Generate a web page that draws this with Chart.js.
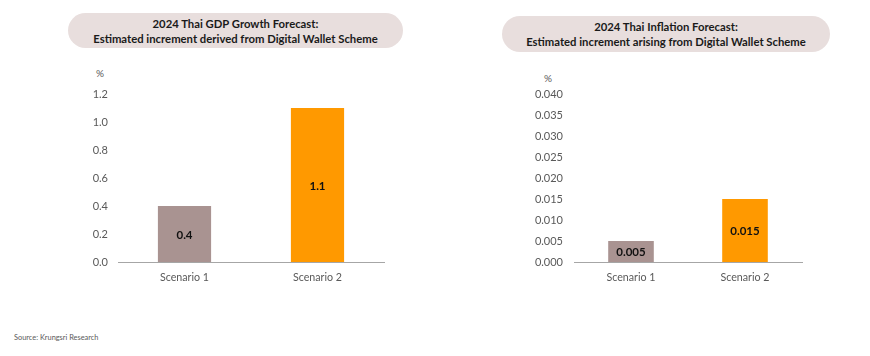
<!DOCTYPE html>
<html><head><meta charset="utf-8">
<script src="https://cdn.jsdelivr.net/npm/chart.js@4.4.0/dist/chart.umd.min.js"></script>
<style>
html,body{margin:0;padding:0;background:#fff;width:870px;height:356px;overflow:hidden;font-family:Lato,"Open Sans",sans-serif;}
.pill{position:absolute;background:#E8DEDD;border-radius:18px;text-align:center;font-weight:bold;font-size:11.3px;line-height:15px;color:#1a1a1a;display:flex;flex-direction:column;justify-content:center;}
.unit{position:absolute;font-size:10px;color:#595959;}
.src{position:absolute;left:14px;top:333px;font-size:7.4px;color:#595959;}
canvas{position:absolute;top:0;}
</style></head><body>
<div class="pill" style="left:68px;top:13px;width:335px;height:35px;">2024 Thai GDP Growth Forecast:<br>Estimated increment derived from Digital Wallet Scheme</div>
<div class="pill" style="left:502px;top:16px;width:328px;height:36px;">2024 Thai Inflation Forecast:<br>Estimated increment arising from Digital Wallet Scheme</div>
<div class="unit" style="left:96px;top:67px;">%</div>
<div class="unit" style="left:544px;top:72px;">%</div>
<div class="src">Source: Krungsri Research</div>
<canvas id="c1" style="left:0px;"></canvas>
<canvas id="c2" style="left:435px;"></canvas>
<script>
const categories = ["Scenario 1", "Scenario 2"];
const gdpValues = [0.4, 1.1];
const inflationValues = [0.005, 0.015];
const gdpTicks = {min: 0, max: 1.2, step: 0.2, decimals: 1};
const inflTicks = {min: 0, max: 0.04, step: 0.005, decimals: 3};
const barColors = ["#A99391", "#FF9900"];

const valueLabels = {
  id: 'valueLabels',
  afterDatasetsDraw(chart) {
    const ctx = chart.ctx;
    const meta = chart.getDatasetMeta(0);
    const ds = chart.data.datasets[0];
    ctx.save();
    ctx.font = 'bold 11.5px Lato, "Open Sans", sans-serif';
    ctx.fillStyle = '#111';
    ctx.textAlign = 'center';
    ctx.textBaseline = 'middle';
    meta.data.forEach((bar, i) => {
      const y = (bar.y + bar.base) / 2;
      ctx.fillText(String(ds.data[i]), bar.x, y + 1);
    });
    ctx.restore();
  }
};

function make(id, values, t, yWidth, yPad, padRight) {
  const cv = document.getElementById(id);
  cv.width = 435; cv.height = 300;
  cv.style.width = '435px'; cv.style.height = '300px';
  return new Chart(cv, {
    type: 'bar',
    data: {labels: categories, datasets: [{data: values, backgroundColor: barColors, borderWidth: 0,
      barPercentage: 0.4, categoryPercentage: 1.0}]},
    options: {
      responsive: false, animation: false,
      layout: {padding: {left: 0, right: padRight, top: 94, bottom: 8}},
      plugins: {legend: {display: false}, tooltip: {enabled: false}},
      scales: {
        x: {
          grid: {display: false, drawTicks: false},
          border: {display: true, color: '#A6A6A6', width: 1},
          ticks: {color: '#595959', font: {size: 10.7, family: 'Lato, "Open Sans", sans-serif'}, padding: 9},
          afterFit(s) { s.height = 30; }
        },
        y: {
          min: t.min, max: t.max,
          grid: {display: false, drawTicks: false},
          border: {display: false},
          ticks: {stepSize: t.step, color: '#595959', padding: yPad,
            font: {size: 11, family: 'Lato, "Open Sans", sans-serif'},
            callback: v => Number(v).toFixed(t.decimals)},
          afterFit(s) { s.width = yWidth; }
        }
      }
    },
    plugins: [valueLabels]
  });
}
make('c1', gdpValues, gdpTicks, 118, 10, 51);
make('c2', inflationValues, inflTicks, 139, 11, 68);
</script>
</body></html>
